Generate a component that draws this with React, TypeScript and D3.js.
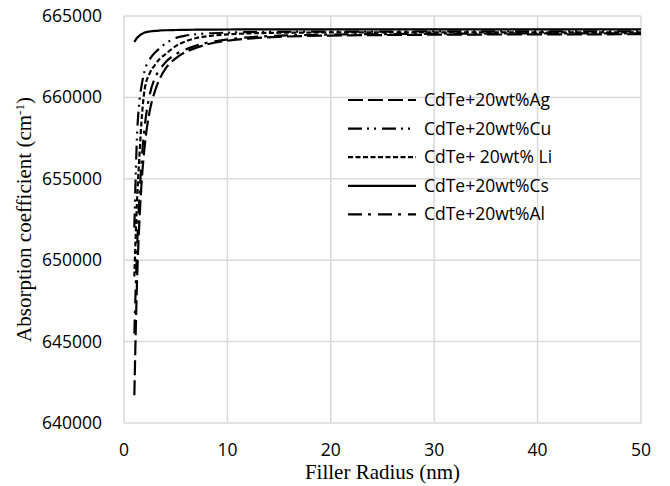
import React from "react";
import * as d3 from "d3";

const radii = [1, 1.25, 1.5, 1.75, 2, 2.5, 3, 3.5, 4, 5, 6, 7, 8, 10, 12, 15, 20, 25, 30, 40, 50];

const agValues = [641700, 648500, 652500, 655200, 657000, 659200, 660400, 661200, 661750, 662400, 662800, 663050, 663250, 663480, 663610, 663720, 663800, 663830, 663850, 663870, 663880];
const cuValues = [652000, 657500, 659800, 660900, 661650, 662350, 662750, 663050, 663300, 663650, 663800, 663880, 663930, 663980, 664010, 664030, 664040, 664045, 664050, 664050, 664050];
const liValues = [649000, 653500, 656500, 659000, 660500, 661500, 662000, 662400, 662650, 663150, 663450, 663650, 663750, 663870, 663930, 663970, 663990, 664000, 664000, 664000, 664000];
const csValues = [663400, 663650, 663800, 663900, 663980, 664050, 664090, 664110, 664125, 664140, 664150, 664160, 664165, 664170, 664175, 664178, 664180, 664180, 664180, 664180, 664180];
const alValues = [645500, 650500, 654000, 656500, 658200, 660200, 661200, 661750, 662150, 662650, 662950, 663180, 663350, 663560, 663690, 663790, 663860, 663890, 663910, 663930, 663940];

const seriesNames = ["CdTe+20wt%Ag", "CdTe+20wt%Cu", "CdTe+ 20wt% Li", "CdTe+20wt%Cs", "CdTe+20wt%Al"];
const seriesValues = [agValues, cuValues, liValues, csValues, alValues];
const dashes = ["15,5", "14,5,2,5,2,6", "5,2.5", "none", "14,6,3,7"];

const xTicks = [0, 10, 20, 30, 40, 50];
const yTicks = [640000, 645000, 650000, 655000, 660000, 665000];

const W = 670, H = 486;
const M = { left: 124, right: 641, top: 16, bottom: 423 };

export default function App() {
  const x = d3.scaleLinear().domain([0, 50]).range([M.left, M.right]);
  const y = d3.scaleLinear().domain([640000, 665000]).range([M.bottom, M.top]);
  const line = d3
    .line<number>()
    .x((_, i) => x(radii[i]))
    .y((d) => y(d))
    .curve(d3.curveMonotoneX);
  const tickFont = "'Open Sans', sans-serif";
  const titleFont = "'Liberation Serif', 'Times New Roman', serif";
  return (
    <svg width={W} height={H} style={{ position: "absolute", left: 0, top: 0, background: "#fff" }}>
      <rect x={0} y={0} width={W} height={H} fill="#fff" />
      {xTicks.map((t) => (
        <line key={"gx" + t} x1={x(t)} x2={x(t)} y1={M.top} y2={M.bottom} stroke="#d9d9d9" strokeWidth={1.5} />
      ))}
      {yTicks.map((t) => (
        <line key={"gy" + t} x1={M.left} x2={M.right} y1={y(t)} y2={y(t)} stroke="#d9d9d9" strokeWidth={1.5} />
      ))}
      {xTicks.map((t) => (
        <text key={"tx" + t} x={x(t)} y={456} textAnchor="middle" fontFamily={tickFont} fontSize={17.5} fill="#000">
          {t}
        </text>
      ))}
      {yTicks.map((t) => (
        <text key={"ty" + t} x={102} y={y(t) + 6} textAnchor="end" fontFamily={tickFont} fontSize={17.5} fill="#000">
          {t}
        </text>
      ))}
      <defs>
        <clipPath id="plotclip">
          <rect x={M.left} y={M.top - 5} width={M.right - M.left + 2} height={M.bottom - M.top + 5} />
        </clipPath>
      </defs>
      <g clipPath="url(#plotclip)">
        {seriesValues.map((vals, i) => (
          <path
            key={seriesNames[i]}
            d={line(vals) || ""}
            fill="none"
            stroke="#000"
            strokeWidth={2.2}
            strokeDasharray={dashes[i] === "none" ? undefined : dashes[i]}
          />
        ))}
      </g>
      {seriesNames.map((n, i) => {
        const cy = 100 + i * 28.6;
        return (
          <g key={"lg" + i}>
            <line x1={348} x2={416} y1={cy} y2={cy} stroke="#000" strokeWidth={2.2}
              strokeDasharray={dashes[i] === "none" ? undefined : dashes[i]} />
            <text x={424} y={cy + 6} fontFamily={tickFont} fontSize={17.5} fill="#000">{n}</text>
          </g>
        );
      })}
      <text x={(M.left + M.right) / 2} y={479} textAnchor="middle" fontFamily={titleFont} fontSize={21} fill="#000">
        Filler Radius (nm)
      </text>
      <text transform={`translate(31, ${(M.top + M.bottom) / 2}) rotate(-90)`} textAnchor="middle" fontFamily={titleFont} fontSize={21} fill="#000">
        Absorption coefficient (cm<tspan dy={-7} fontSize={13}>-1</tspan><tspan dy={7}>)</tspan>
      </text>
    </svg>
  );
}
